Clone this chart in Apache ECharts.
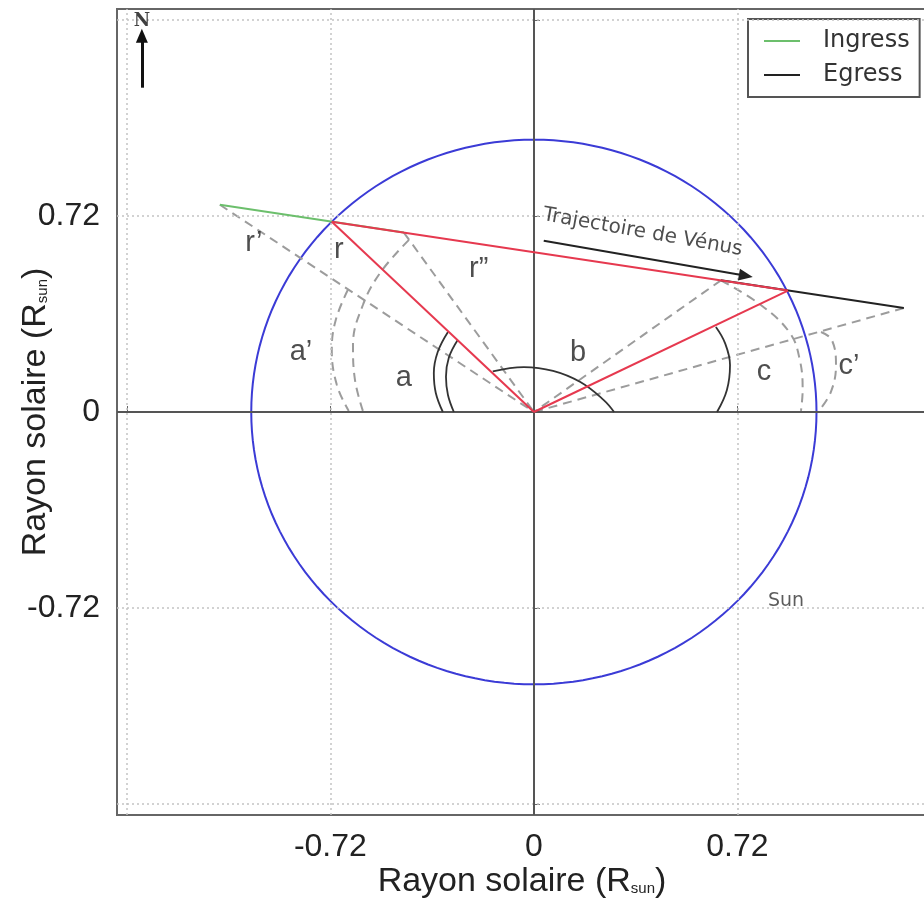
<!DOCTYPE html>
<html><head><meta charset="utf-8">
<script src="https://cdn.jsdelivr.net/npm/echarts@6/dist/echarts.min.js"></script>
<style>html,body{margin:0;padding:0;background:#fff}#c{width:924px;height:902px}</style>
</head><body><div id="c"></div>
<script>
// ---- data (in solar radii) ----
const xTickLabels = [-0.72, 0, 0.72];
const yTickLabels = [-0.72, 0, 0.72];
const gridTicks = [-1.44, -0.72, 0.72, 1.44];
const zeroAxis = [0];
const sunCircle = [[0, 0, 1]];
const ingressTrack = [[-1.111, 0.761], [-0.460, 0.659]];
const egressTrack = [[0.662, 0.4835], [1.309, 0.382]];
const redChord = [[-0.715, 0.699], [0.899, 0.446]];
const redRadiusIngress = [[0, 0], [-0.715, 0.699]];
const redRadiusEgress = [[0, 0], [0.899, 0.446]];
const dashRPrime = [[-1.111, 0.761], [0, 0]];
const dashRSecond = [[-0.460, 0.659], [0, 0]];
const dashEgressStart = [[0.662, 0.4835], [0, 0]];
const dashEgressEnd = [[1.309, 0.382], [0, 0]];
const arcDashA1 = [[-0.658, 0.449], [-0.701, 0.338], [-0.715, 0.228], [-0.697, 0.099], [-0.655, 0.004]];
const arcDashA2 = [[-0.442, 0.632], [-0.541, 0.515], [-0.605, 0.393], [-0.640, 0.246], [-0.633, 0.118], [-0.605, 0.004]];
const arcDashC1 = [[0.662, 0.4835], [0.803, 0.393], [0.906, 0.290], [0.941, 0.191], [0.951, 0.081], [0.945, 0.004]];
const arcDashC2 = [[1.016, 0.294], [1.054, 0.265], [1.069, 0.173], [1.051, 0.074], [1.008, 0.004]];
const arcA1 = [[-0.304, 0.294], [-0.340, 0.221], [-0.354, 0.143], [-0.347, 0.070], [-0.322, 0]];
const arcA2 = [[-0.269, 0.265], [-0.301, 0.199], [-0.311, 0.129], [-0.304, 0.0625], [-0.283, 0]];
const arcB = [[-0.1454, 0.149], [-0.0354, 0.165], [0.0679, 0.151], [0.1645, 0.110], [0.2473, 0.0438], [0.2838, 0]];
const arcC = [[0.644, 0.3125], [0.676, 0.254], [0.694, 0.173], [0.683, 0.081], [0.648, 0]];
const arrowTrajectory = [[0.035, 0.629], [0.750, 0.500]];
const arrowNorth = [[-1.387, 1.191], [-1.387, 1.382]];
const labelText = ['r\u2019', 'r', 'r\u201d', 'a\u2019', 'a', 'b', 'c', 'c\u2019'];
const labelX = [-0.991, -0.690, -0.195, -0.824, -0.460, 0.156, 0.814, 1.115];
const labelY = [0.621, 0.596, 0.526, 0.221, 0.125, 0.217, 0.147, 0.169];
const sunLabel = ['Sun', 0.892, -0.695];
const trajLabel = ['Trajectoire de V\u00e9nus', 0.385, 0.660];
const northLabel = ['N', -1.387, 1.434];

const DASH = '#9c9c9c';
const RED = '#e6394f';
const GREEN = '#6cbf6c';
const BLACK = '#222';
function seg(name, data, color, width, dashed, smooth, z) {
  return {
    type: 'line', name: name, data: data, symbol: 'none', silent: true,
    smooth: smooth ? 0.4 : false, z: z || 3, animation: false,
    itemStyle: { color: color },
    lineStyle: { color: color, width: width, type: dashed ? [9, 6] : 'solid' }
  };
}
const titleStyle = {
  fontSize: 34, color: '#222', fontFamily: 'Liberation Sans',
  rich: { sub: { fontSize: 15, fontFamily: 'Liberation Sans', color: '#222', padding: [14, 0, 0, 0] } }
};

const chart = echarts.init(document.getElementById('c'), null, { renderer: 'canvas' });
const option = {
  animation: false,
  backgroundColor: '#fff',
  grid: { left: 117, top: 9, right: -3, bottom: 87, show: true, borderColor: '#666', borderWidth: 2, outerBoundsMode: 'none', containLabel: false },
  xAxis: {
    type: 'value', min: -1.475, max: 1.391,
    axisLine: { show: false }, splitLine: { show: false },
    axisTick: { show: true, inside: true, length: 6, customValues: gridTicks.concat(zeroAxis), lineStyle: { color: '#666' } },
    axisLabel: { customValues: xTickLabels, fontSize: 32, color: '#222', margin: 16, fontFamily: 'Liberation Sans', formatter: v => String(v) },
    name: 'Rayon solaire (R{sub|sun})', nameLocation: 'middle', nameGap: 50, nameMoveOverlap: false,
    nameTextStyle: titleStyle
  },
  yAxis: {
    type: 'value', min: -1.48, max: 1.48,
    axisLine: { show: false }, splitLine: { show: false },
    axisTick: { show: true, inside: true, length: 6, customValues: gridTicks.concat(zeroAxis), lineStyle: { color: '#666' } },
    axisLabel: { customValues: yTickLabels, fontSize: 32, color: '#222', margin: 17, fontFamily: 'Liberation Sans', formatter: v => String(v) },
    name: 'Rayon solaire (R{sub|sun})', nameLocation: 'middle', nameGap: 64, nameMoveOverlap: false,
    nameTextStyle: titleStyle
  },
  legend: {
    left: 748, top: 19, orient: 'vertical',
    data: [
      { name: 'Ingress', icon: 'rect', itemStyle: { color: GREEN } },
      { name: 'Egress', icon: 'rect', itemStyle: { color: BLACK } }
    ],
    backgroundColor: '#fff', borderColor: '#555', borderWidth: 2, borderRadius: 0,
    padding: [10, 10, 10, 16], itemWidth: 36, itemHeight: 2, itemGap: 10,
    textStyle: { fontSize: 24, lineHeight: 24, color: '#333', fontFamily: 'DejaVu Sans', padding: [0, 0, 0, 18] }
  },
  series: [
    {
      type: 'line', name: 'grid', data: [], silent: true, z: 1,
      markLine: {
        silent: true, symbol: 'none', label: { show: false },
        lineStyle: { color: '#c4c4c4', width: 1.5, type: [2, 3] },
        data: gridTicks.map(v => ({ xAxis: v })).concat(gridTicks.map(v => ({ yAxis: v })))
      }
    },
    {
      type: 'line', name: 'axes0', data: [], silent: true, z: 2,
      markLine: {
        silent: true, symbol: 'none', label: { show: false },
        lineStyle: { color: '#555', width: 2, type: 'solid' },
        data: zeroAxis.map(v => ({ xAxis: v })).concat(zeroAxis.map(v => ({ yAxis: v })))
      }
    },
    {
      type: 'custom', name: 'Sun', data: sunCircle, silent: true, z: 3,
      renderItem: function (params, api) {
        const cx = api.value(0), cy = api.value(1), r = api.value(2);
        const pts = [];
        for (let i = 0; i <= 360; i += 2) {
          const t = i * Math.PI / 180;
          pts.push(api.coord([cx + r * Math.cos(t), cy + r * Math.sin(t)]));
        }
        return { type: 'polyline', shape: { points: pts }, style: { stroke: '#3b3bd6', lineWidth: 2, fill: null } };
      }
    },
    seg('d1', dashRPrime, DASH, 2, true, false, 4),
    seg('d2', dashRSecond, DASH, 2, true, false, 4),
    seg('d3', dashEgressStart, DASH, 2, true, false, 4),
    seg('d4', dashEgressEnd, DASH, 2, true, false, 4),
    seg('da1', arcDashA1, DASH, 2, true, true, 4),
    seg('da2', arcDashA2, DASH, 2, true, true, 4),
    seg('dc1', arcDashC1, DASH, 2, true, true, 4),
    seg('dc2', arcDashC2, DASH, 2, true, true, 4),
    seg('aa1', arcA1, '#333', 1.8, false, true, 5),
    seg('aa2', arcA2, '#333', 1.8, false, true, 5),
    seg('ab', arcB, '#333', 1.8, false, true, 5),
    seg('ac', arcC, '#333', 1.8, false, true, 5),
    seg('Ingress', ingressTrack, GREEN, 2, false, false, 6),
    seg('Egress', egressTrack, BLACK, 2, false, false, 6),
    seg('rc', redChord, RED, 2, false, false, 7),
    seg('ri', redRadiusIngress, RED, 2, false, false, 7),
    seg('re', redRadiusEgress, RED, 2, false, false, 7),
    {
      type: 'line', name: 'arrows', data: [], silent: true, z: 8,
      markLine: {
        silent: true, symbol: ['none', 'triangle'], symbolSize: [12, 14], label: { show: false },
        data: [
          [{ coord: arrowTrajectory[0], lineStyle: { color: '#222', width: 2, type: 'solid' } }, { coord: arrowTrajectory[1] }],
          [{ coord: arrowNorth[0], lineStyle: { color: '#111', width: 3, type: 'solid' } }, { coord: arrowNorth[1] }]
        ]
      }
    },
    {
      type: 'scatter', name: 'labels', silent: true, z: 9, symbolSize: 1, itemStyle: { color: 'transparent' },
      data: labelText.map((t, i) => ({ name: t, value: [labelX[i], labelY[i]] })),
      label: { show: true, position: 'inside', formatter: '{b}', fontSize: 29, color: '#222', fontFamily: 'Liberation Sans' }
    },
    {
      type: 'scatter', name: 'sunlabel', silent: true, z: 9, symbolSize: 1, itemStyle: { color: 'transparent' },
      data: [
        { name: sunLabel[0], value: [sunLabel[1], sunLabel[2]], label: { fontSize: 19, color: '#333', fontFamily: 'DejaVu Sans' } },
        { name: trajLabel[0], value: [trajLabel[1], trajLabel[2]], label: { fontSize: 20, color: '#222', fontFamily: 'DejaVu Sans', rotate: -10 } },
        { name: northLabel[0], value: [northLabel[1], northLabel[2]], label: { fontSize: 18, color: '#111', fontFamily: 'DejaVu Serif', fontWeight: 'bold' } }
      ],
      label: { show: true, position: 'inside', formatter: '{b}' }
    }
  ]
};
chart.setOption(option);
</script></body></html>
